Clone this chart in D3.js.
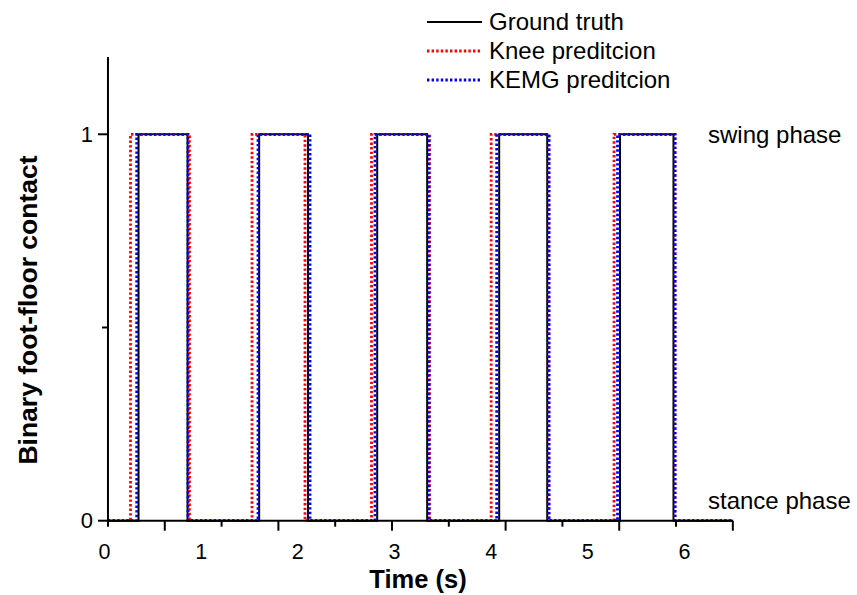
<!DOCTYPE html>
<html>
<head>
<meta charset="utf-8">
<script src="https://cdn.jsdelivr.net/npm/d3@7"></script>
<style>
  body { margin: 0; background: #fff; }
  svg { font-family: "Liberation Sans", Arial, sans-serif; }
</style>
</head>
<body>
<div id="plot"></div>
<script>
// switching times (s): rising edge = swing starts, falling edge = back to stance
const truthRise = [0.352, 1.600, 2.821, 4.083, 5.333];
const truthFall = [0.859, 2.105, 3.338, 4.580, 5.886];
const kneeRise = [0.269, 1.526, 2.762, 4.000, 5.271];
const kneeFall = [0.879, 2.074, 3.362, 4.598, 5.902];
const kemgRise = [0.333, 1.588, 2.798, 4.057, 5.307];
const kemgFall = [0.864, 2.126, 3.357, 4.598, 5.902];

const tStart = 0.036, tEnd = 6.5;
const xTickLabels = [0, 1, 2, 3, 4, 5, 6];
const yTickLabels = [0, 1];
const seriesNames = ["Ground truth", "Knee preditcion", "KEMG preditcion"];

const width = 857, height = 595;

const svg = d3.select("#plot")
    .append("svg")
    .attr("width", width)
    .attr("height", height);

const x = d3.scaleLinear().domain([0, 6]).range([104.5, 684.5]);
const y = d3.scaleLinear().domain([0, 1.2]).range([520.7, 57]);

// evenly spaced tick marks along the axis (they do not line up with the labels)
const tickScale = d3.scaleLinear().domain([0, 11]).range([x(tStart), x(tEnd)]);

function toSteps(rise, fall) {
    let pts = [{t: tStart, v: 0}];
    rise.forEach((r, i) => {
        pts.push({t: r, v: 1});
        pts.push({t: fall[i], v: 0});
    });
    pts.push({t: tEnd, v: 0});
    return pts;
}

const line = d3.line()
    .x(d => x(d.t))
    .y(d => y(d.v))
    .curve(d3.curveStepAfter);

const series = [
    {name: seriesNames[0], data: toSteps(truthRise, truthFall), color: "#000", dash: null, w: 2},
    {name: seriesNames[1], data: toSteps(kneeRise, kneeFall), color: "#ff0000", dash: "2.4,2.2", w: 2.8},
    {name: seriesNames[2], data: toSteps(kemgRise, kemgFall), color: "#0000ff", dash: "2.4,2.2", w: 2.8}
];

series.forEach(s => {
    svg.append("path")
        .datum(s.data)
        .attr("d", line)
        .attr("fill", "none")
        .attr("stroke", s.color)
        .attr("stroke-width", s.w)
        .attr("stroke-dasharray", s.dash);
});

// axes
svg.append("line")
    .attr("x1", x(tStart)).attr("x2", x(tStart))
    .attr("y1", y(0)).attr("y2", y(1.2))
    .attr("stroke", "#000").attr("stroke-width", 2);
svg.append("line")
    .attr("x1", x(tStart)).attr("x2", x(tEnd))
    .attr("y1", y(0)).attr("y2", y(0))
    .attr("stroke", "#000").attr("stroke-width", 2);

svg.selectAll(".xtick")
    .data(d3.range(12))
    .enter()
    .append("line")
    .attr("class", "xtick")
    .attr("x1", d => tickScale(d)).attr("x2", d => tickScale(d))
    .attr("y1", y(0))
    .attr("y2", d => y(0) + (d % 2 === 1 ? 10 : 6))
    .attr("stroke", "#000").attr("stroke-width", 2);

svg.selectAll(".xlabel")
    .data(xTickLabels)
    .enter()
    .append("text")
    .attr("x", d => x(d))
    .attr("y", 559)
    .attr("text-anchor", "middle")
    .style("font-size", "21.5px")
    .text(d => d);

svg.selectAll(".ytick")
    .data([0, 0.5, 1])
    .enter()
    .append("line")
    .attr("x1", d => x(tStart) - (d === 0.5 ? 6 : 10))
    .attr("x2", x(tStart))
    .attr("y1", d => y(d)).attr("y2", d => y(d))
    .attr("stroke", "#000").attr("stroke-width", 2);

svg.selectAll(".ylabel")
    .data(yTickLabels)
    .enter()
    .append("text")
    .attr("x", 93)
    .attr("y", d => y(d))
    .attr("dy", "0.35em")
    .attr("text-anchor", "end")
    .style("font-size", "22px")
    .text(d => d);

svg.append("text")
    .attr("x", 418)
    .attr("y", 588)
    .attr("text-anchor", "middle")
    .style("font-size", "25.5px")
    .style("font-weight", "bold")
    .text("Time (s)");

svg.append("text")
    .attr("transform", `translate(28, 310) rotate(-90)`)
    .attr("text-anchor", "middle")
    .attr("dominant-baseline", "central")
    .style("font-size", "26.5px")
    .style("font-weight", "bold")
    .text("Binary foot-floor contact");

svg.append("text")
    .attr("x", 708).attr("y", y(1))
    .attr("dy", "0.35em")
    .style("font-size", "24px")
    .text("swing phase");

svg.append("text")
    .attr("x", 708).attr("y", 501)
    .attr("dy", "0.35em")
    .style("font-size", "24px")
    .text("stance phase");

// legend
const legend = svg.append("g").attr("transform", "translate(427, 22)");
series.forEach((s, i) => {
    legend.append("line")
        .attr("x1", 0).attr("x2", 55)
        .attr("y1", i * 29).attr("y2", i * 29)
        .attr("stroke", s.color)
        .attr("stroke-width", s.w)
        .attr("stroke-dasharray", s.dash);
    legend.append("text")
        .attr("x", 62).attr("y", i * 29)
        .attr("dy", "0.35em")
        .style("font-size", "24px")
        .text(s.name);
});
</script>
</body>
</html>
